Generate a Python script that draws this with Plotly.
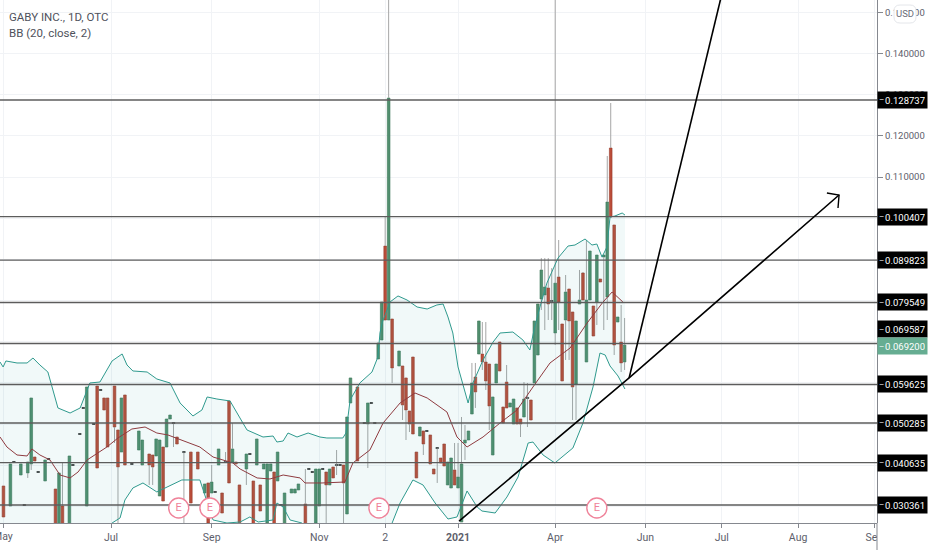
import plotly.graph_objects as go

# ---------- data ----------
bar_index = [1,3,4,6,7,8,9,10,11,13,
 14,16,17,18,20,21,23,24,25,27,
 28,29,30,31,33,34,35,36,38,40,
 41,43,44,45,46,47,48,49,50,51,
 53,55,57,59,60,61,62,63,64,65,
 66,67,68,69,71,72,73,74,75,76,
 77,78,79,80,81,82,84,85,86,88,
 89,90,91,92,93,94,95,96,97,98,
 99,100,101,103,105,106,107,108,109,110,
 111,112,113,115,116,117,118,119,120,121,
 122,123,124,125,126,127,128,129,130,131,
 132,133,134,135,136,137,138,139,140,141,
 142,143,144,145,146,147,148,149,150,151,
 152,153,154,155,156,157,158,159,160,161,
 162,163,164,165,166,167,168,169,170,171,
 172,173,174,175,176,177,178,179,180]
open_price = [.03497,.03011,.04092,.03764,.03047,.03813,.04032,.04201,.03849,.03619,
 .04165,.03424,.02550,.03011,.02550,.04019,.04772,.05404,.03011,.05015,
 .05926,.05841,.05635,.05635,.05926,.04857,.04322,.05708,.04044,.04371,
 .04007,.04274,.04250,.04226,.03254,.04444,.04444,.05124,.05039,.04687,
 .04334,.04322,.04322,.03327,.03570,.03327,.03364,.04007,.03327,.04092,
 .05562,.04080,.04080,.03522,.03910,.04286,.03619,.04007,.03522,.03910,
 .02598,.03861,.03837,.03619,.03047,.02550,.03327,.03327,.03400,.03060,
 .03922,.03849,.02598,.03011,.03922,.03837,.03522,.03959,.04019,.04019,
 .04007,.02817,.05513,.05902,.05039,.05003,.05525,.05039,.06582,.07043,
 .09326,.07529,.07553,.06412,.06412,.06121,.05319,.06630,.04322,.04711,
 .04833,.04845,.04736,.03910,.04432,.04177,.04517,.03522,.03449,.03886,
 .03449,.02622,.04541,.04614,.05246,.06145,.06703,.06703,.06509,.06460,
 .04250,.05999,.06994,.05416,.06023,.05416,.05003,.05392,.05124,.05173,
 .05647,.05586,.05999,.06679,.08039,.08137,.08307,.08003,.07213,.08574,
 .07432,.07529,.08282,.07724,.05974,.07918,.08671,.06509,.08015,.07869,
 .07967,.08525,.09060,.08088,.11707,.09837,.07480,.06994,.06509]
close_price = [.02744,.04032,.04068,.04032,.03023,.04080,.05635,.04104,.03825,.04129,
 .04141,.02550,.03813,.02550,.04226,.03995,.04748,.05380,.05902,.04991,
 .03934,.05817,.05343,.04444,.04930,.03959,.05635,.04007,.04020,.04833,
 .04614,.04007,.03959,.04639,.04614,.03132,.05124,.05221,.05015,.04517,
 .04310,.03084,.03910,.03546,.02598,.03594,.03340,.04396,.02841,.04068,
 .03570,.04396,.04032,.02550,.04274,.04262,.02550,.04639,.02889,.04032,
 .04032,.04032,.02550,.04322,.03023,.03327,.03424,.03424,.03546,.02550,
 .03898,.03825,.03910,.03910,.03898,.03522,.03910,.03692,.03995,.03995,
 .03570,.05173,.06121,.04104,.05015,.05513,.05501,.05015,.06970,.07967,
 .07529,.12921,.06363,.06776,.05465,.05343,.05003,.04760,.03692,.04930,
 .04517,.04821,.04032,.03788,.04408,.04056,.03983,.04080,.04177,.03522,
 .03716,.04032,.04614,.04833,.05999,.05781,.07505,.06509,.06048,.05440,
 .05659,.06460,.06290,.05027,.05392,.05513,.05610,.05003,.05003,.05610,
 .05623,.05100,.07505,.07918,.08744,.08331,.07918,.07979,.08425,.07967,
 .06048,.08209,.07505,.05902,.07505,.08015,.08015,.08015,.09205,.07140,
 .09108,.08452,.09108,.10395,.10031,.06922,.07602,.06485,.06920]
high_price = [.03497,.04032,.04092,.04032,.03047,.04080,.05635,.04201,.03849,.04129,
 .04165,.03424,.03813,.04056,.04226,.04019,.04772,.05404,.05902,.05015,
 .05926,.05841,.05635,.05635,.05926,.04857,.05635,.05708,.04044,.04833,
 .04614,.04274,.04250,.04639,.04614,.04444,.05124,.05221,.05039,.04687,
 .04334,.04322,.04322,.03546,.03570,.04007,.03364,.04396,.03327,.04322,
 .05562,.05027,.04080,.03522,.04274,.04286,.03619,.04639,.03522,.04032,
 .04032,.04032,.03837,.04322,.03047,.03327,.03424,.03424,.03546,.03910,
 .03922,.03849,.03910,.03910,.03922,.03837,.03910,.03959,.04371,.04019,
 .04007,.05173,.06121,.05902,.05039,.05513,.05525,.05039,.06970,.07967,
 .10031,.16000,.07553,.06776,.06412,.06121,.05319,.06630,.04322,.04930,
 .04833,.04845,.04736,.03910,.04432,.04177,.04517,.04080,.04177,.04541,
 .04541,.05173,.04978,.04833,.06485,.06485,.07505,.07480,.07480,.06460,
 .05659,.06460,.06994,.05416,.06436,.05513,.05610,.05392,.05124,.06023,
 .05999,.05586,.07505,.07918,.09033,.09033,.09033,.08790,.16000,.09472,
 .07432,.08622,.08282,.07724,.07505,.08744,.08695,.09472,.09205,.07869,
 .09108,.08525,.09108,.11513,.12800,.09837,.07602,.07894,.07578]
low_price = [.02744,.03011,.04068,.03764,.03023,.03692,.03886,.04104,.03825,.03619,
 .04141,.02550,.02550,.02550,.02550,.03995,.04748,.05380,.03011,.04991,
 .03934,.05817,.05343,.04444,.04541,.02550,.04322,.04007,.04020,.04371,
 .04007,.03522,.03522,.04226,.03254,.03132,.04444,.05124,.04444,.04517,
 .02550,.03084,.03910,.03327,.02598,.03327,.03340,.04007,.02841,.04068,
 .03570,.04080,.04032,.02550,.03522,.04262,.02550,.04007,.02889,.03910,
 .02598,.03861,.02550,.03619,.03023,.02550,.03327,.03327,.03400,.02550,
 .03898,.03825,.02598,.03011,.03898,.02598,.03522,.03692,.03764,.03995,
 .02598,.02817,.05513,.04104,.05015,.03934,.05501,.05015,.06582,.07043,
 .07529,.07529,.05999,.06412,.05100,.04614,.04808,.04760,.03692,.04711,
 .04250,.04821,.04032,.03788,.03570,.04056,.03983,.03522,.03449,.03522,
 .03449,.02622,.04129,.04614,.05246,.05392,.06703,.06315,.05829,.04857,
 .04250,.05999,.06290,.05027,.05392,.05416,.05003,.05003,.04687,.05173,
 .04930,.05100,.05999,.06679,.07772,.07286,.07529,.07529,.06921,.07286,
 .06048,.06558,.06558,.05100,.05100,.07918,.08015,.06509,.08015,.07140,
 .07408,.08452,.07286,.07529,.10031,.06679,.07480,.06266,.06315]

upper_x = [0,.9,1.7,4.9,7.8,9.5,11.5,13.8,16.7,20.2,23.1,25.9,28.8,32.3,35.2,36.6,38.3,42.4,45.2,49,51.9,55.6,58.2,59.7,62.5,66.3,70,71.2,75.8,78.7,79.8,81.6,83,85.6,88.8,92.2,94.2,98.8,99.7,100.3,100.9,103.7,107.2,108.9,109.5,110.1,112.4,114.7,117.3,120.2,123.1,125.9,127.7,129.1,130.5,132,134.9,136.3,139.2,142.1,144.1,147.8,150.7,152.7,153.9,155.6,157.6,160.8,163.7,165.7,168.6,170.6,172,173.5,174.9,175.8,177.2,179.3,180.1]
upper_y = [.06509,.06388,.06534,.06485,.06485,.06606,.06436,.06266,.05392,.05270,.05392,.05999,.06023,.06534,.06704,.06436,.06291,.06266,.06096,.05999,.05513,.05197,.05343,.05659,.05610,.05562,.05027,.04857,.04687,.04711,.04565,.04590,.04784,.04687,.04784,.04687,.04663,.04663,.04784,.05173,.05586,.05999,.06266,.06630,.07213,.07456,.07967,.08113,.08015,.07845,.07796,.07894,.07918,.07602,.07213,.06388,.05513,.05999,.06558,.06994,.07213,.07237,.07043,.06800,.07286,.07845,.08425,.09033,.09326,.09350,.09496,.09350,.09375,.09057,.09302,.10031,.10055,.10128,.10079]
lower_x = [0,14.4,28.8,32.3,34.6,36,38.3,41.2,45.2,48.1,52.4,54.8,57.6,61.4,65.4,69.2,72,74.4,78.7,79.8,81.6,83.6,87,92.2,103.7,111,113,115.3,119,121.9,125.4,129.1,131.7,134.6,137.5,138.9,142.7,146.1,149.3,152.2,153.6,156.5,159.9,165.1,168,170.9,172.9,174.4,175.8,178.1,180.1]
lower_y = [.02306,.02185,.02306,.02598,.02720,.03157,.03449,.03570,.03352,.03473,.03643,.03643,.03643,.02671,.02598,.02622,.02744,.02622,.02671,.03084,.02987,.02671,.02598,.02185,.02063,.02428,.02598,.03084,.03643,.03522,.03084,.02695,.02744,.03376,.02987,.02889,.02841,.03230,.03716,.04541,.04565,.04250,.04056,.04420,.05027,.05902,.06727,.06679,.06412,.06169,.05853]
basis_x = [0,2,4.9,7.8,9.2,11.5,14.4,17.3,20.2,22.5,25.1,28.2,30.8,34,38,41.8,45.2,48.4,52.4,57.6,61.4,67.1,69.2,74.1,77.8,81.6,86.5,87.9,92.8,99.4,101.7,106.6,110.4,115.3,119.6,123.1,128.8,131.7,134.6,139.2,144.1,149,153.6,158.5,164.3,169.2,173.8,176.4,179.5]
basis_y = [.04687,.04444,.04250,.04226,.04396,.04250,.04129,.03764,.03692,.03837,.04129,.04298,.04444,.04663,.04881,.04930,.04784,.04736,.04614,.04444,.04201,.04056,.03910,.03692,.03667,.03764,.03692,.03570,.03570,.03594,.04056,.04371,.05027,.05513,.05756,.05635,.05294,.04687,.04444,.04687,.05027,.05343,.05902,.06485,.06849,.07456,.07967,.08209,.07967]

level_prices = [.128737,.100407,.089823,.079549,.069587,.059625,.050285,.040635,.030361]
last_price = .0692
earnings_x = [51.5,60.5,109.2,172]
earnings_y = [.02963,.02963,.02963,.02963]
trend_x = [132.3,181.3,241.8]
trend_y = [.02646,.06121,.10565]
steep_x = [181.3,209]
steep_y = [.06121,.15788]
head_x = [238.3,241.8,241.5]
head_y = [.10614,.10565,.10250]
month_ticks = [1,32,61,92,111,132,160,186,208,230,252]
month_names = ["","Jul","Sep","Nov","2","<b>2021</b>","Apr","Jun","Jul","Aug","Sep"]
first_month = "May"
price_ticks = [.03,.04,.05,.06,.07,.08,.09,.10,.11,.12,.13,.14,.15]
price_tick_text = ["","","","","","","","","0.110000","0.120000","0.130000","0.140000","0.150000"]
title_lines = ["GABY INC., 1D, OTC","BB (20, close, 2)"]

# ---------- styling ----------
W, H = 932, 550
ML, MR, MT, MB = 0, 55, 0, 27
PW, PH = W - ML - MR, H - MT - MB
XMAX = PW / 3.47
YMIN, YMAX = .02598, .15302
FONT = "Roboto"
TEXT = "#5d606b"
GREEN, GREEN_D = "#518f6e", "#3a7557"
RED, RED_D = "#bb4d39", "#97392a"
DOJI = "#222222"
TEAL, MAROON = "#2f9a8e", "#8f3b40"
LEVEL = "#5c5c5c"
GRID = "#f1f3f6"
AXIS = "#85888f"
PINK = "#ef8299"

def px(x): return x / PW
def py(y): return 1 - y / PH

colors, borders, bases, spans = [], [], [], []
wx, wy = [], []
for i, o, h, l, c in zip(bar_index, open_price, high_price, low_price, close_price):
    top, bot = max(o, c), min(o, c)
    bases.append(bot)
    spans.append(top - bot)
    if top - bot < .0004:
        colors.append(DOJI); borders.append(DOJI)
    elif c >= o:
        colors.append(GREEN); borders.append(GREEN_D)
    else:
        colors.append(RED); borders.append(RED_D)
    if h > top:
        wx += [i, i, None]; wy += [top, h, None]
    if l < bot:
        wx += [i, i, None]; wy += [bot, l, None]

fig = go.Figure()
fig.add_trace(go.Bar(x=bar_index, y=spans, base=bases, width=.76,
                     marker=dict(color=colors, line=dict(color=borders, width=.6))))
fig.add_trace(go.Scatter(x=wx, y=wy, mode="lines", line=dict(color="#a6a6a6", width=1)))
fig.add_trace(go.Scatter(x=upper_x, y=upper_y, mode="lines", line=dict(color=TEAL, width=1)))
fig.add_trace(go.Scatter(x=lower_x, y=lower_y, mode="lines", line=dict(color=TEAL, width=1),
                         fill="tonexty", fillcolor="rgba(38,160,160,0.065)"))
fig.add_trace(go.Scatter(x=basis_x, y=basis_y, mode="lines", line=dict(color=MAROON, width=1)))

lx, ly = [], []
for p in level_prices:
    lx += [0, XMAX, None]; ly += [p, p, None]
fig.add_trace(go.Scatter(x=lx, y=ly, mode="lines", line=dict(color=LEVEL, width=1.4)))

fig.add_trace(go.Scatter(x=earnings_x, y=earnings_y, mode="markers+text", text=["E"] * len(earnings_x),
                         textposition="middle center", textfont=dict(family=FONT, size=11, color=PINK),
                         marker=dict(size=20, color="white", line=dict(color=PINK, width=1.4))))
fig.add_trace(go.Scatter(x=trend_x, y=trend_y, mode="lines", line=dict(color="black", width=1.6)))
fig.add_trace(go.Scatter(x=steep_x, y=steep_y, mode="lines", line=dict(color="black", width=1.6)))
fig.add_trace(go.Scatter(x=head_x, y=head_y, mode="lines", line=dict(color="black", width=1.4)))

ann = []
for k, t in enumerate(title_lines):
    ann.append(dict(xref="paper", yref="paper", x=px(7), y=py(17 + 16 * k), text=t, showarrow=False,
                    xanchor="left", yanchor="middle", font=dict(family=FONT, size=11.5, color="#4f525c")))

def price_tag(p, bg, fg, shift=0):
    ann.append(dict(xref="paper", yref="y", x=1, y=p, text=f"{p:.6f}", showarrow=False, xanchor="left",
                    yanchor="middle", yshift=shift, width=45, height=12, align="right", bgcolor=bg,
                    borderpad=2, font=dict(family=FONT, size=9.5, color=fg)))
    ann.append(dict(xref="paper", yref="y", x=1, y=p, text="–", showarrow=False, xanchor="left",
                    yanchor="middle", yshift=shift, xshift=0, font=dict(family=FONT, size=8, color=fg)))

for p in level_prices:
    price_tag(p, "#000000", "#ffffff", 14 if p == .069587 else 0)
price_tag(last_price, "#66ad92", "#ffffff", -1)

ann.append(dict(xref="paper", yref="paper", x=px(905), y=py(14), text="USD", showarrow=False,
                xanchor="center", yanchor="middle", font=dict(family=FONT, size=9.5, color="#6a6d78")))
ann.append(dict(xref="paper", yref="paper", x=px(3), y=py(536), text=first_month, showarrow=False,
                xanchor="center", yanchor="middle", font=dict(family=FONT, size=10.5, color=TEXT)))

# rounded badge path in paper units
bx0, bx1, by0, by1, r = 894, 916, 5, 23, 6
badge = (f"M {px(bx0+r)} {py(by0)} L {px(bx1-r)} {py(by0)} Q {px(bx1)} {py(by0)} {px(bx1)} {py(by0+r)} "
         f"L {px(bx1)} {py(by1-r)} Q {px(bx1)} {py(by1)} {px(bx1-r)} {py(by1)} L {px(bx0+r)} {py(by1)} "
         f"Q {px(bx0)} {py(by1)} {px(bx0)} {py(by1-r)} L {px(bx0)} {py(by0+r)} Q {px(bx0)} {py(by0)} {px(bx0+r)} {py(by0)} Z")

shapes = [
    dict(type="rect", xref="paper", yref="paper", x0=1, x1=W / PW, y0=0, y1=-MB / PH,
         fillcolor="white", line=dict(width=0), layer="above"),
    dict(type="line", xref="paper", yref="paper", x0=1, x1=1, y0=0, y1=-MB / PH,
         line=dict(color=AXIS, width=1), layer="above"),
    dict(type="path", xref="paper", yref="paper", path=badge, fillcolor="white",
         line=dict(color="#e4e6ea", width=1), layer="above"),
]

fig.update_layout(
    width=W, height=H, margin=dict(l=ML, r=MR, t=MT, b=MB, pad=0),
    paper_bgcolor="white", plot_bgcolor="white", showlegend=False, hovermode=False,
    barmode="overlay", annotations=ann, shapes=shapes,
    xaxis=dict(range=[0, XMAX], tickmode="array", tickvals=month_ticks, ticktext=month_names,
               showgrid=True, gridcolor=GRID, gridwidth=1, zeroline=False, showline=True,
               linecolor=AXIS, linewidth=1, ticks="outside", ticklen=4, tickcolor=AXIS,
               tickfont=dict(family=FONT, size=10.5, color=TEXT)),
    yaxis=dict(range=[YMIN, YMAX], side="right", tickmode="array", tickvals=price_ticks,
               ticktext=price_tick_text,
               showgrid=True, gridcolor=GRID, gridwidth=1, zeroline=False, showline=True,
               linecolor=AXIS, linewidth=1, ticks="outside", ticklen=5, tickcolor=AXIS,
               tickfont=dict(family=FONT, size=9.5, color=TEXT)),
)
fig.write_html("out.html", config=dict(displayModeBar=False),
               post_script="document.body.style.margin='0';document.documentElement.style.overflow='hidden';")
